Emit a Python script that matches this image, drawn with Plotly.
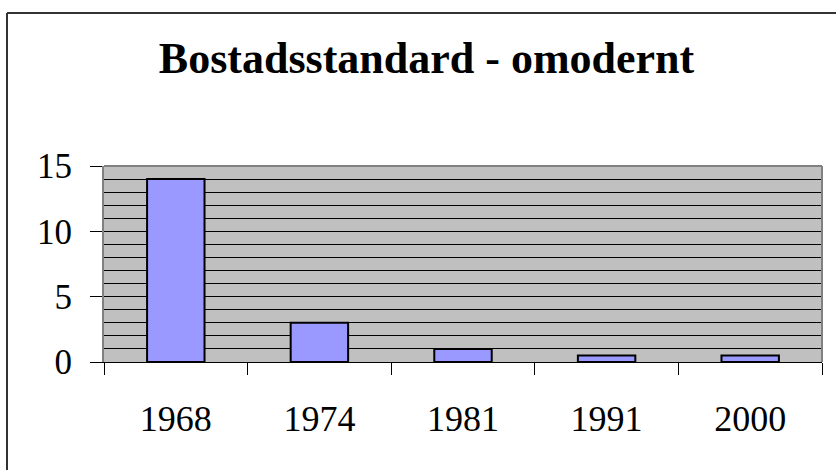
import plotly.graph_objects as go

years = ["1968", "1974", "1981", "1991", "2000"]
values = [14, 3, 1, 0.5, 0.5]
y_ticks = [0, 5, 10, 15]
title_text = "Bostadsstandard - omodernt"

W, H = 836, 470
L, R, T, B = 104, 14, 166, 108
pw, ph = W - L - R, H - T - B

def px_x(px):
    return (px - L) / pw

def px_y(py):
    return (H - B - py) / ph

fig = go.Figure(
    go.Bar(
        x=years,
        y=values,
        width=0.4,
        marker=dict(color="#9999FF", line=dict(color="black", width=2)),
        hoverinfo="x+y",
    )
)

font = "Liberation Serif, Times New Roman, serif"

fig.update_layout(
    width=W,
    height=H,
    margin=dict(l=L, r=R, t=T, b=B),
    paper_bgcolor="white",
    plot_bgcolor="#C0C0C0",
    showlegend=False,
    font=dict(family=font, color="black"),
    title=dict(
        text="<b>" + title_text + "</b>",
        font=dict(family=font, size=44, color="black"),
        x=426.5 / W,
        xanchor="center",
        y=1 - 58 / H,
        yanchor="middle",
    ),
    bargap=0.6,
)

fig.update_xaxes(
    type="category",
    range=[-0.5, 4.5],
    tickson="boundaries",
    ticks="outside",
    ticklen=12,
    tickwidth=1,
    tickcolor="black",
    showline=True,
    linecolor="black",
    linewidth=1,
    showgrid=False,
    tickfont=dict(family=font, size=36, color="black"),
    ticklabelstandoff=25,
    fixedrange=True,
)

fig.update_yaxes(
    range=[0, 15],
    tickvals=y_ticks,
    ticks="outside",
    ticklen=12,
    tickwidth=1,
    tickcolor="black",
    showline=True,
    linecolor="#808080",
    linewidth=2,
    showgrid=True,
    gridcolor="black",
    gridwidth=1,
    minor=dict(dtick=1, showgrid=True, gridcolor="black", gridwidth=1, ticks=""),
    zeroline=False,
    tickfont=dict(family=font, size=35, color="black"),
    ticklabelstandoff=11,
    fixedrange=True,
)

# plot-area border (top and right), grey like the reference
fig.add_shape(type="line", xref="paper", yref="paper", x0=0, x1=1, y0=1, y1=1,
              line=dict(color="#808080", width=2))
fig.add_shape(type="line", xref="paper", yref="paper", x0=1, x1=1, y0=0, y1=1,
              line=dict(color="#808080", width=2))

# chart-area border: only top and left edges visible in the picture
bx, by = px_x(7), px_y(13)
fig.add_shape(type="line", xref="paper", yref="paper", x0=bx, x1=px_x(W + 10), y0=by, y1=by,
              line=dict(color="#333333", width=2))
fig.add_shape(type="line", xref="paper", yref="paper", x0=bx, x1=bx, y0=by, y1=px_y(H + 10),
              line=dict(color="#333333", width=2))

fig.write_html(
    "out.html",
    config={"displayModeBar": False},
    post_script="document.body.style.margin='0';document.body.style.overflow='hidden';",
)
